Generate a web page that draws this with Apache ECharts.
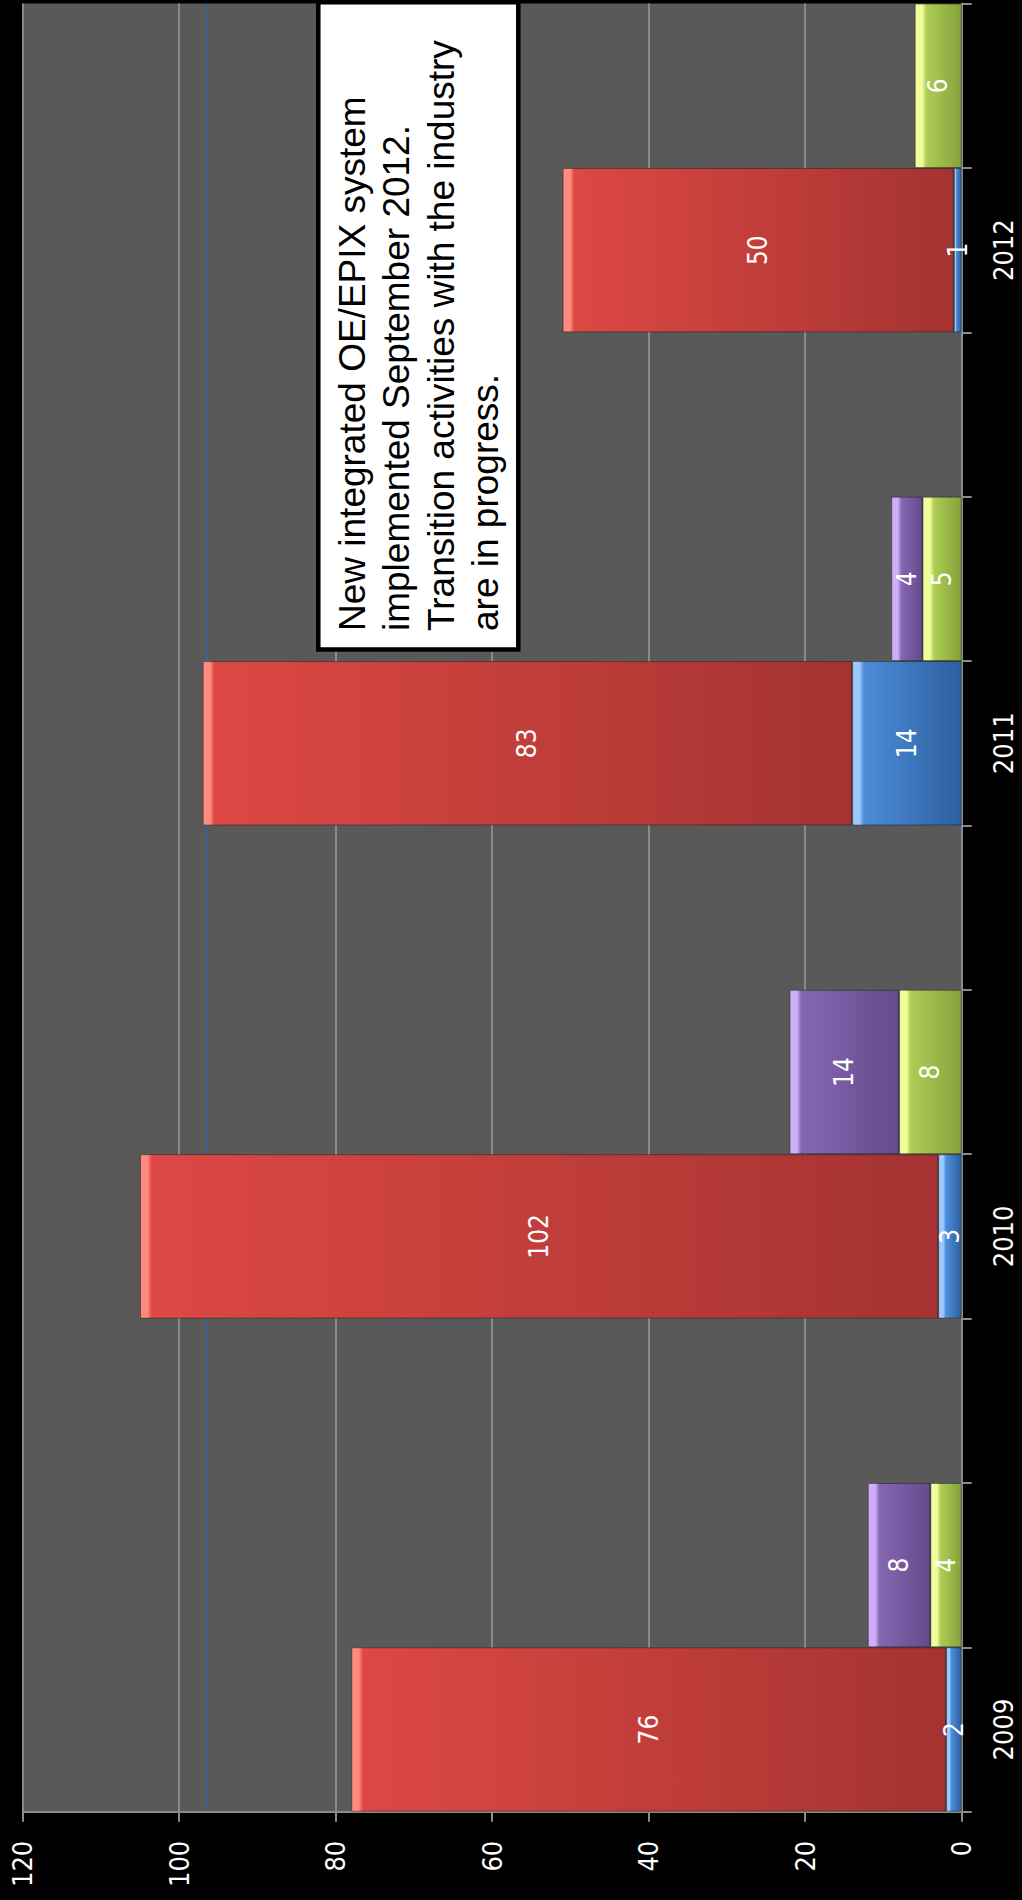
<!DOCTYPE html>
<html>
<head>
<meta charset="utf-8">
<script src="https://cdn.jsdelivr.net/npm/echarts@6/dist/echarts.min.js"></script>
<style>
html,body{margin:0;padding:0;background:#000;}
#chart{width:1022px;height:1900px;}
</style>
</head>
<body>
<div id="chart"></div>
<script>
// ---- data ----
const categories = ['2009', '', '', '2010', '', '', '2011', '', '', '2012', ''];
const blueValues = [2, null, null, 3, null, null, 14, null, null, 1, null];
const redValues = [76, null, null, 102, null, null, 83, null, null, 50, null];
const greenValues = [null, 4, null, null, 8, null, null, 5, null, null, 6];
const purpleValues = [null, 8, null, null, 14, null, null, 4, null, null, null];
const valueMin = 0;
const valueMax = 120;
const valueInterval = 20;
const refLineValue = [96.5];
const noteLines = [
  'New integrated OE/EPIX system',
  'implemented September 2012.',
  'Transition activities with the industry',
  'are in progress.'
];

// ---- style ----
const palettes = {
  blue:   { hi: '#9ccaff', a: '#4d8dda', b: '#2c5f9f' },
  red:    { hi: '#ff8a80', a: '#dd4843', b: '#a43331' },
  green:  { hi: '#f0ff9c', a: '#aecd55', b: '#84a23b' },
  purple: { hi: '#cdaef7', a: '#8567b1', b: '#654a8c' }
};
function makeColor(p) {
  return function (params) {
    const v = Math.abs(params.value || 1);
    const h = Math.min(0.2, 0.9 / v);
    return new echarts.graphic.LinearGradient(0, 0, 1, 0, [
      { offset: 0, color: p.hi },
      { offset: h, color: p.hi },
      { offset: Math.min(0.5, h * 1.6), color: p.a },
      { offset: 1, color: p.b }
    ]);
  };
}
const labelFont = '"DejaVu Sans Condensed", "DejaVu Sans", sans-serif';

function barSeries(name, data, pal, extra) {
  return Object.assign({
    name: name,
    type: 'bar',
    stack: 'all',
    data: data,
    z: 3,
    barCategoryGap: '0%',
    itemStyle: {
      color: makeColor(pal),
      borderColor: 'rgba(0,0,0,0.35)',
      borderWidth: 1
    },
    label: {
      show: true,
      position: 'inside',
      rotate: 90,
      color: '#fff',
      fontSize: 26,
      fontFamily: labelFont
    },
    emphasis: { disabled: true }
  }, extra || {});
}

const chart = echarts.init(document.getElementById('chart'), null, { renderer: 'svg' });
const option = {
  backgroundColor: '#000',
  animation: false,
  grid: {
    left: 22.7, right: 60.3, top: 3.6, bottom: 88.3,
    show: true, backgroundColor: '#595959', borderWidth: 0
  },
  xAxis: {
    type: 'value',
    inverse: true,
    min: valueMin, max: valueMax, interval: valueInterval,
    position: 'bottom',
    axisLine: { show: true, lineStyle: { color: '#8c8c8c', width: 2 } },
    axisTick: { show: true, length: 10, lineStyle: { color: '#8c8c8c', width: 2 } },
    splitLine: { show: true, lineStyle: { color: '#898989', width: 2 } },
    axisLabel: {
      rotate: 90, margin: 29, color: '#fff',
      fontSize: 27, fontFamily: labelFont
    }
  },
  yAxis: {
    type: 'category',
    data: categories,
    position: 'right',
    axisLine: { show: true, lineStyle: { color: '#8c8c8c', width: 2 } },
    axisTick: { show: true, length: 10, interval: 0, lineStyle: { color: '#8c8c8c', width: 2 } },
    splitLine: { show: false },
    axisLabel: {
      interval: 0, rotate: 90, margin: 28, color: '#fff',
      fontSize: 27, fontFamily: labelFont
    }
  },
  series: [
    barSeries('Blue', blueValues, palettes.blue, {
      markLine: {
        z: 1,
        silent: true,
        symbol: 'none',
        label: { show: false },
        lineStyle: { color: '#1f6cb8', width: 1, type: 'solid' },
        data: refLineValue.map(v => ({ xAxis: v }))
      }
    }),
    barSeries('Red', redValues, palettes.red),
    barSeries('Green', greenValues, palettes.green),
    barSeries('Purple', purpleValues, palettes.purple)
  ],
  graphic: [
    {
      type: 'rect',
      z: 10,
      shape: { x: 318.3, y: 2.3, width: 200, height: 647.2 },
      style: { fill: '#fff', stroke: '#000', lineWidth: 4.5 }
    },
    {
      type: 'text',
      z: 11,
      x: 330,
      y: 631,
      rotation: Math.PI / 2,
      style: {
        text: noteLines.join('\n'),
        font: '37px "Liberation Sans", Arial, sans-serif',
        lineHeight: 44.5,
        fill: '#000',
        align: 'left',
        verticalAlign: 'top'
      }
    }
  ]
};
chart.setOption(option);
</script>
</body>
</html>
